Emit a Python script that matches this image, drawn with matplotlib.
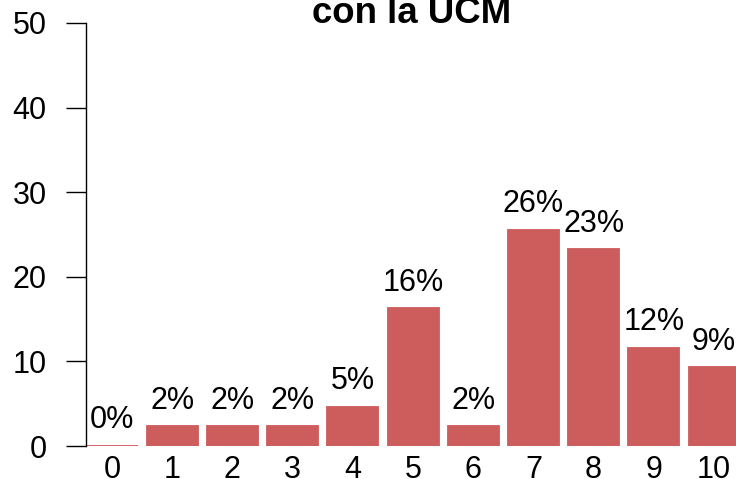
import matplotlib
matplotlib.use("Agg")
import matplotlib.pyplot as plt

plt.rcParams['font.family'] = ['Liberation Sans', 'DejaVu Sans']

categories = ['0', '1', '2', '3', '4', '5', '6', '7', '8', '9', '10']
percent = [0.0, 2.33, 2.33, 2.33, 4.65, 16.28, 2.33, 25.58, 23.26, 11.63, 9.30]
labels = ['0%', '2%', '2%', '2%', '5%', '16%', '2%', '26%', '23%', '12%', '9%']
yticks = [0, 10, 20, 30, 40, 50]
title = 'con la UCM'

W, H = 736, 479
fig = plt.figure(figsize=(W / 100, H / 100), dpi=100)
ax = fig.add_axes([86 / W, (H - 446) / H, (W - 86) / W, (446 - 23) / H])

color = '#CD5C5C'
xs = list(range(len(categories)))
ax.bar(xs, percent, width=0.847, color=color, edgecolor=color, linewidth=1.3)

for x, v, lab in zip(xs, percent, labels):
    ax.annotate(lab, (x, v), xytext=(0, 12.6), textcoords='offset points',
                ha='center', va='baseline', fontsize=22, annotation_clip=False)

ax.set_xlim(-0.432, 10.365)
ax.set_ylim(0, 50)
ax.set_yticks(yticks)
ax.set_yticklabels([str(t) for t in yticks])
ax.set_xticks(xs)
ax.set_xticklabels(categories)

for s in ['top', 'right', 'bottom']:
    ax.spines[s].set_visible(False)
ax.spines['left'].set_linewidth(1.0)
ax.spines['left'].set_color('black')

ax.tick_params(axis='y', length=14.4, width=1.0, pad=14, labelsize=22)
ax.tick_params(axis='x', length=0, pad=6.5, labelsize=22)

fig.text(412 / W, 1 - 23 / H, title, ha='center', va='baseline',
         fontweight='bold', fontsize=26.4)

fig.savefig('out.png', dpi=100)
